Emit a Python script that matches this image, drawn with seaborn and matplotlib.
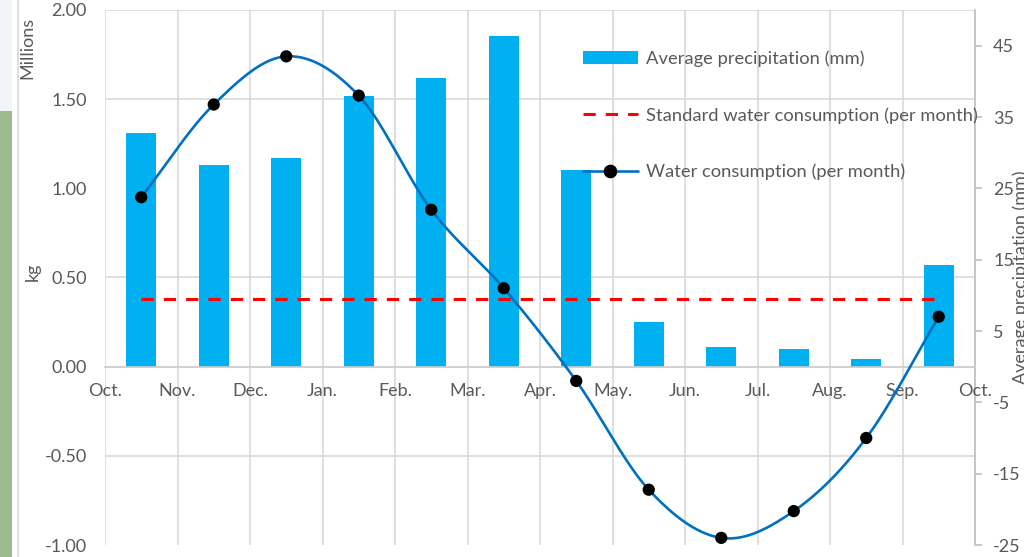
import numpy as np
import pandas as pd
import matplotlib
matplotlib.use("Agg")
import matplotlib.pyplot as plt
from matplotlib.lines import Line2D
from matplotlib.patches import Rectangle
from matplotlib.ticker import FixedLocator, FormatStrFormatter
import seaborn as sns

# Monthly values for the hydrological year (Oct. - Sep.)
months = ["Oct.", "Nov.", "Dec.", "Jan.", "Feb.", "Mar.", "Apr.",
          "May.", "Jun.", "Jul.", "Aug.", "Sep."]
tick_labels = months + ["Oct."]
precip_mm = [32.8, 28.3, 29.2, 37.9, 40.5, 46.3, 27.6, 6.2, 2.8, 2.5, 1.1, 14.2]
consumption_mkg = [0.95, 1.47, 1.74, 1.52, 0.88, 0.44, -0.08, -0.69, -0.96, -0.81, -0.40, 0.28]
standard_mkg = [0.38] * 12

GRAY = "#595959"
GRID = "#d9d9d9"
BAR = "#00b0f0"
LINE = "#0070c0"


def smooth_path(x, y, n=40):
    """Catmull-Rom curve through (x, y), like a spreadsheet 'smoothed line'."""
    x = np.asarray(x, float)
    y = np.asarray(y, float)
    px = np.concatenate([[2 * x[0] - x[1]], x, [2 * x[-1] - x[-2]]])
    py = np.concatenate([[2 * y[0] - y[1]], y, [2 * y[-1] - y[-2]]])
    t = np.linspace(0, 1, n, endpoint=False)
    xs, ys = [], []
    for i in range(1, len(px) - 2):
        for arr, out in ((px, xs), (py, ys)):
            p0, p1, p2, p3 = arr[i - 1], arr[i], arr[i + 1], arr[i + 2]
            out.append(0.5 * (2 * p1 + (-p0 + p2) * t
                              + (2 * p0 - 5 * p1 + 4 * p2 - p3) * t ** 2
                              + (-p0 + 3 * p1 - 3 * p2 + p3) * t ** 3))
    xs.append([x[-1]])
    ys.append([y[-1]])
    return np.concatenate(xs), np.concatenate(ys)


sns.set_theme(style="white")
plt.rcParams["font.family"] = ["Lato", "DejaVu Sans"]
plt.rcParams["axes.unicode_minus"] = False

fig = plt.figure(figsize=(10.24, 5.57), dpi=100)
ax = fig.add_axes([105 / 1024, 12 / 557, 870 / 1024, 535 / 557])
ax2 = ax.twinx()
ax.set_zorder(ax2.get_zorder() + 1)
ax.patch.set_visible(False)

df = pd.DataFrame({
    "pos": np.arange(len(months)) + 0.5,
    "month": months,
    "precip": precip_mm,
    "use": consumption_mkg,
    "std": standard_mkg,
})

# precipitation bars on the secondary (right) axis
sns.barplot(data=df, x="pos", y="precip", native_scale=True, width=0.41,
            color=BAR, saturation=1, linewidth=0, ax=ax2)

# standard consumption and actual consumption on the primary (left) axis
sns.lineplot(data=df, x="pos", y="std", ax=ax, color="#ff0000",
             linewidth=2.2, dashes=False, linestyle=(0, (4, 3.3)))
sx, sy = smooth_path(df["pos"], df["use"])
ax.plot(sx, sy, color=LINE, linewidth=1.9, solid_capstyle="round", zorder=3)
sns.scatterplot(data=df, x="pos", y="use", ax=ax, color="black", s=78,
                edgecolor="none", zorder=4)

# primary axis
ax.set_xlim(0, 12)
ax.set_ylim(-1, 2)
ax.set_xticks(range(13))
ax.set_xticklabels(tick_labels)
ax.set_yticks(np.arange(-1, 2.01, 0.5))
ax.yaxis.set_major_formatter(FormatStrFormatter("%.2f"))
ax.set_xlabel("")
ax.set_ylabel("")
ax.grid(False)
for side in ("left", "right", "top"):
    ax.spines[side].set_visible(False)
ax.spines["bottom"].set_position(("data", 0))
ax.spines["bottom"].set_color("#cfcfcf")
ax.spines["bottom"].set_linewidth(1.2)
ax.tick_params(axis="x", length=0, pad=12, labelcolor=GRAY, labelsize=13)
ax.tick_params(axis="y", length=0, pad=13, labelcolor=GRAY, labelsize=13)

# secondary axis
ax2.set_ylim(-25, 50)
ax2.set_yticks(np.arange(-25, 46, 10))
ax2.yaxis.set_minor_locator(FixedLocator(np.arange(-25, 50.1, 12.5)))
ax2.set_ylabel("")
ax2.set_xlabel("")
ax2.xaxis.set_visible(True)
ax2.tick_params(axis="x", length=0, labelbottom=False, labeltop=False)
ax2.tick_params(axis="y", which="major", length=5, width=1.2, color="#bfbfbf",
                pad=8, labelcolor=GRAY, labelsize=13)
ax2.tick_params(axis="y", which="minor", length=0)
ax2.grid(True, axis="x", which="major", color=GRID, linewidth=1.2)
ax2.grid(True, axis="y", which="minor", color=GRID, linewidth=1.2)
ax2.grid(False, axis="y", which="major")
for side in ("left", "top", "bottom"):
    ax2.spines[side].set_visible(False)
ax2.spines["right"].set_color("#bfbfbf")
ax2.spines["right"].set_linewidth(1.2)

# legend
handles = [
    Rectangle((0, 0), 1, 1, facecolor=BAR, edgecolor="none"),
    Line2D([], [], color="#ff0000", linewidth=2.2, linestyle=(0, (4, 3.3))),
    Line2D([], [], color=LINE, linewidth=1.9, marker="o", markersize=8.8,
           markerfacecolor="black", markeredgecolor="black"),
]
labels = ["Average precipitation (mm)",
          "Standard water consumption (per month)",
          "Water consumption (per month)"]
leg = ax.legend(handles, labels, loc="upper left", bbox_to_anchor=(0.549, 0.925),
                frameon=False, fontsize=13.2, handlelength=3.0, handletextpad=0.45,
                labelspacing=2.2, borderaxespad=0, borderpad=0)
for t in leg.get_texts():
    t.set_color(GRAY)

# axis titles
fig.text(27 / 1024, 1 - 48 / 557, "Millions", rotation=90, ha="center", va="center",
         color=GRAY, fontsize=13)
fig.text(33 / 1024, 1 - 272 / 557, "kg", rotation=90, ha="center", va="center",
         color=GRAY, fontsize=13)
fig.text(1021 / 1024, 1 - 277 / 557, "Average precipitation (mm)", rotation=90,
         ha="center", va="center", color=GRAY, fontsize=13)

# window edge at the left of the sheet
fig.add_artist(Rectangle((0, 0), 12 / 1024, (557 - 111) / 557,
                         transform=fig.transFigure, facecolor="#9dbb8f", edgecolor="none"))
fig.add_artist(Rectangle((0, 1 - 111 / 557), 12 / 1024, 111 / 557,
                         transform=fig.transFigure, facecolor="#f1f5f9", edgecolor="none"))
fig.add_artist(Line2D([17.5 / 1024] * 2, [0, 1], transform=fig.transFigure,
                      color="#d8d8d8", linewidth=1.2))

fig.savefig("out.png", dpi=100)
